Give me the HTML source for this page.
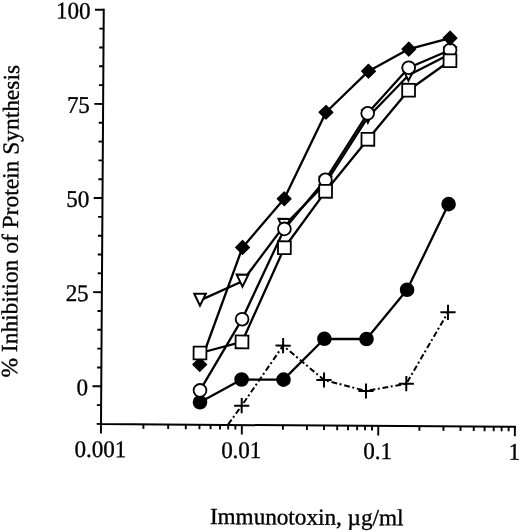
<!DOCTYPE html>
<html lang="en"><head><meta charset="utf-8"><title>Immunotoxin inhibition of protein synthesis</title>
<style>
html,body{margin:0;padding:0;background:#fff;}
body{width:520px;height:532px;overflow:hidden;}
svg{display:block;will-change:transform;}
</style></head><body>
<svg width="520" height="532" viewBox="0 0 520 532">
<rect width="520" height="532" fill="#fff"/>
<g transform="rotate(0.38 101.0 424.1)">
<path d="M101 8.8 V424.1 H515.9" fill="none" stroke="#000" stroke-width="2.0" stroke-linecap="butt" stroke-linejoin="miter"/>
<path d="M101 423.95 h-4.3 M101 405.12 h-4.3 M101 386.3 h-8.8 M101 367.48 h-4.3 M101 348.65 h-4.3 M101 329.82 h-4.3 M101 311 h-4.3 M101 292.18 h-8.8 M101 273.35 h-4.3 M101 254.53 h-4.3 M101 235.7 h-4.3 M101 216.88 h-4.3 M101 198.05 h-8.8 M101 179.22 h-4.3 M101 160.4 h-4.3 M101 141.58 h-4.3 M101 122.75 h-4.3 M101 103.93 h-8.8 M101 85.1 h-4.3 M101 66.27 h-4.3 M101 47.45 h-4.3 M101 28.62 h-4.3 M101 9.8 h-8.8 M101 424.1 v9.5 M143.4 424.1 v4.5 M168.21 424.1 v4.5 M185.81 424.1 v4.5 M199.46 424.1 v4.5 M210.61 424.1 v4.5 M220.04 424.1 v4.5 M228.21 424.1 v4.5 M235.41 424.1 v4.5 M241.86 424.1 v9.5 M282.93 424.1 v4.5 M306.96 424.1 v4.5 M324.01 424.1 v4.5 M337.23 424.1 v4.5 M348.03 424.1 v4.5 M357.17 424.1 v4.5 M365.08 424.1 v4.5 M372.06 424.1 v4.5 M378.3 424.1 v9.5 M419.42 424.1 v4.5 M443.47 424.1 v4.5 M460.54 424.1 v4.5 M473.78 424.1 v4.5 M484.6 424.1 v4.5 M493.74 424.1 v4.5 M501.66 424.1 v4.5 M508.65 424.1 v4.5 M514.9 424.1 v9.5" fill="none" stroke="#000" stroke-width="1.9"/>
<g font-family="'Liberation Serif', 'Times New Roman', serif" font-size="23px" fill="#000" stroke="#000" stroke-width="0.35" stroke-linejoin="round">
<text transform="translate(87.8 395.3) scale(1 1.04)" text-anchor="end" >0</text>
<text transform="translate(87.8 301.18) scale(1 1.04)" text-anchor="end" >25</text>
<text transform="translate(87.8 207.05) scale(1 1.04)" text-anchor="end" >50</text>
<text transform="translate(87.8 112.93) scale(1 1.04)" text-anchor="end" >75</text>
<text transform="translate(87.8 18.8) scale(1 1.04)" text-anchor="end" >100</text>
<text transform="translate(100.6 457.1) scale(1 1.04)" text-anchor="middle" >0.001</text>
<text transform="translate(241.46 457.1) scale(1 1.04)" text-anchor="middle" >0.01</text>
<text transform="translate(377.9 457.1) scale(1 1.04)" text-anchor="middle" >0.1</text>
<text transform="translate(514.5 457.1) scale(1 1.04)" text-anchor="middle" >1</text>
<text transform="translate(307.3 523.3) scale(1 1.0)" text-anchor="middle" textLength="193.5" lengthAdjust="spacingAndGlyphs">Immunotoxin, µg/ml</text>
<text transform="translate(16.6 378.1) rotate(-90)" text-anchor="start" textLength="312.6" lengthAdjust="spacingAndGlyphs">% Inhibition of Protein Synthesis</text>
</g>
<polyline points="228.2,423.46 241.57,404.77 282.58,344.39 323.7,378.52 365.77,389.24 406.03,381.68 447.25,310" fill="none" stroke="#000" stroke-width="2" stroke-dasharray="5.8 2.5 2 2.8"/>
<path d="M233.97 404.77 h15.2M241.57 397.17 v15.2 M274.98 344.39 h15.2M282.58 336.79 v15.2 M316.1 378.52 h15.2M323.7 370.92 v15.2 M358.17 389.24 h15.2M365.77 381.64 v15.2 M398.43 381.68 h15.2M406.03 374.08 v15.2 M439.65 310 h15.2M447.25 302.4 v15.2" stroke="#000" stroke-width="2" fill="none"/>
<polyline points="199.85,401.64 241.3,378.57 283.2,378.39 323.83,337.32 365.93,337.24 406.2,287.77 447.13,201.8" fill="none" stroke="#000" stroke-width="2.3" stroke-linejoin="round" />
<circle cx="199.85" cy="401.64" r="7.3" fill="#000"/>
<circle cx="241.3" cy="378.57" r="7.3" fill="#000"/>
<circle cx="283.2" cy="378.39" r="7.3" fill="#000"/>
<circle cx="323.83" cy="337.32" r="7.3" fill="#000"/>
<circle cx="365.93" cy="337.24" r="7.3" fill="#000"/>
<circle cx="406.2" cy="287.77" r="7.3" fill="#000"/>
<circle cx="447.13" cy="201.8" r="7.3" fill="#000"/>
<polyline points="199.4,363.85 241.32,246.47 282.7,197.59 323.93,110.81 366.15,69.43 406.31,47.07 447.53,35.79" fill="none" stroke="#000" stroke-width="2.3" stroke-linejoin="round" />
<polyline points="199.18,299.75 241.55,280.36 282.88,224.39 323.9,182.02 365.86,115.44 406.18,73.27 447.64,51.69" fill="none" stroke="#000" stroke-width="2.3" stroke-linejoin="round" />
<polyline points="199.77,389.74 241.4,318.27 283.1,227.69 323.77,178.32 365.63,111.54 406.33,65.67 447.61,47.69" fill="none" stroke="#000" stroke-width="2.3" stroke-linejoin="round" />
<polyline points="199.53,352.34 241.45,340.97 283.23,246.49 324.05,189.82 366.01,137.54 406.38,88.17 447.58,58.39" fill="none" stroke="#000" stroke-width="2.3" stroke-linejoin="round" />
<polygon points="193.37,293.05 204.99,293.05 199.18,305.14" fill="#fff" stroke="#000" stroke-width="2.0" stroke-linejoin="miter" stroke-miterlimit="10"/>
<polygon points="235.74,273.66 247.36,273.66 241.55,285.76" fill="#fff" stroke="#000" stroke-width="2.0" stroke-linejoin="miter" stroke-miterlimit="10"/>
<polygon points="277.07,217.69 288.69,217.69 282.88,229.78" fill="#fff" stroke="#000" stroke-width="2.0" stroke-linejoin="miter" stroke-miterlimit="10"/>
<polygon points="318.09,175.32 329.71,175.32 323.9,187.41" fill="#fff" stroke="#000" stroke-width="2.0" stroke-linejoin="miter" stroke-miterlimit="10"/>
<polygon points="360.05,108.74 371.67,108.74 365.86,120.83" fill="#fff" stroke="#000" stroke-width="2.0" stroke-linejoin="miter" stroke-miterlimit="10"/>
<polygon points="400.37,66.57 411.99,66.57 406.18,78.66" fill="#fff" stroke="#000" stroke-width="2.0" stroke-linejoin="miter" stroke-miterlimit="10"/>
<polygon points="441.83,44.99 453.45,44.99 447.64,57.08" fill="#fff" stroke="#000" stroke-width="2.0" stroke-linejoin="miter" stroke-miterlimit="10"/>
<circle cx="199.77" cy="389.74" r="6.4" fill="#fff" stroke="#000" stroke-width="1.8"/>
<circle cx="241.4" cy="318.27" r="6.4" fill="#fff" stroke="#000" stroke-width="1.8"/>
<circle cx="283.1" cy="227.69" r="6.4" fill="#fff" stroke="#000" stroke-width="1.8"/>
<circle cx="323.77" cy="178.32" r="6.4" fill="#fff" stroke="#000" stroke-width="1.8"/>
<circle cx="365.63" cy="111.54" r="6.4" fill="#fff" stroke="#000" stroke-width="1.8"/>
<circle cx="406.33" cy="65.67" r="6.4" fill="#fff" stroke="#000" stroke-width="1.8"/>
<circle cx="447.61" cy="47.69" r="6.4" fill="#fff" stroke="#000" stroke-width="1.8"/>
<polygon points="192.5,363.85 199.4,356.95 206.3,363.85 199.4,370.75" fill="#000" stroke="#000" stroke-width="1.2" stroke-linejoin="round"/>
<polygon points="234.42,246.47 241.32,239.57 248.22,246.47 241.32,253.37" fill="#000" stroke="#000" stroke-width="1.2" stroke-linejoin="round"/>
<polygon points="275.8,197.59 282.7,190.69 289.6,197.59 282.7,204.49" fill="#000" stroke="#000" stroke-width="1.2" stroke-linejoin="round"/>
<polygon points="317.03,110.81 323.93,103.91 330.83,110.81 323.93,117.71" fill="#000" stroke="#000" stroke-width="1.2" stroke-linejoin="round"/>
<polygon points="359.25,69.43 366.15,62.53 373.05,69.43 366.15,76.33" fill="#000" stroke="#000" stroke-width="1.2" stroke-linejoin="round"/>
<polygon points="399.41,47.07 406.31,40.17 413.21,47.07 406.31,53.97" fill="#000" stroke="#000" stroke-width="1.2" stroke-linejoin="round"/>
<polygon points="440.63,35.79 447.53,28.89 454.43,35.79 447.53,42.69" fill="#000" stroke="#000" stroke-width="1.2" stroke-linejoin="round"/>
<rect x="193.13" y="345.94" width="12.8" height="12.8" fill="#fff" stroke="#000" stroke-width="1.8"/>
<rect x="235.05" y="334.57" width="12.8" height="12.8" fill="#fff" stroke="#000" stroke-width="1.8"/>
<rect x="276.83" y="240.09" width="12.8" height="12.8" fill="#fff" stroke="#000" stroke-width="1.8"/>
<rect x="317.65" y="183.42" width="12.8" height="12.8" fill="#fff" stroke="#000" stroke-width="1.8"/>
<rect x="359.61" y="131.14" width="12.8" height="12.8" fill="#fff" stroke="#000" stroke-width="1.8"/>
<rect x="399.98" y="81.77" width="12.8" height="12.8" fill="#fff" stroke="#000" stroke-width="1.8"/>
<rect x="441.18" y="51.99" width="12.8" height="12.8" fill="#fff" stroke="#000" stroke-width="1.8"/>
</g>
</svg>
</body></html>
